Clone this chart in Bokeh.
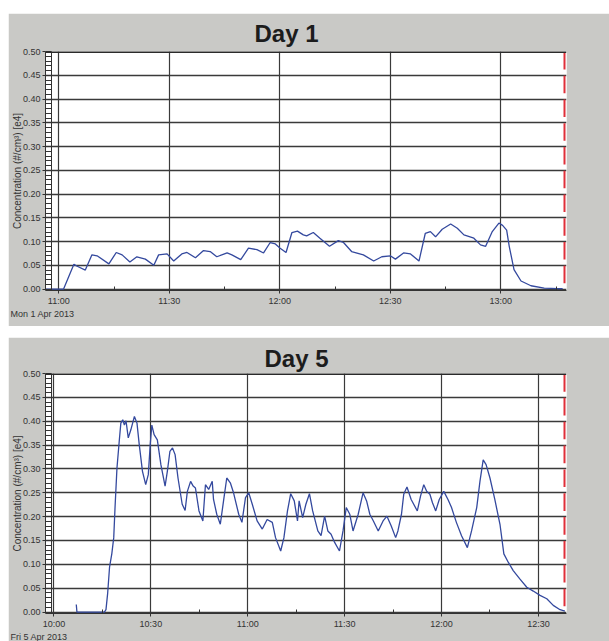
from bokeh.plotting import figure
from bokeh.models import (FixedTicker, NumeralTickFormatter, Span, Title, ColumnDataSource, Range1d)
from bokeh.layouts import column
from bokeh.embed import file_html
from bokeh.resources import INLINE

# ---------------- data (minutes after the first labelled hour) ----------------
day1_t = [-3.5, 1.3, 4.1, 5.0, 7.2, 9.0, 10.4, 13.6, 15.6, 17.2, 19.3, 21.2, 23.5, 25.8,
          27.1, 29.4, 31.2, 33.4, 34.8, 37.1, 39.3, 41.1, 42.9, 45.7, 47.0, 49.4, 51.5,
          53.8, 55.6, 57.4, 58.8, 60.1, 61.7, 63.3, 64.8, 66.4, 67.3, 69.1, 70.9, 73.5,
          75.9, 77.3, 79.5, 82.7, 85.5, 87.7, 90.0, 91.4, 93.6, 95.5, 97.8, 99.5, 100.9,
          102.3, 104.1, 106.4, 108.2, 110.0, 112.7, 114.5, 115.9, 117.7, 119.5, 120.5,
          121.6, 122.3, 123.6, 125.5, 128.2, 131.8, 135.5, 136.8]
day1_v = [0.0, 0.0, 0.052, 0.048, 0.040, 0.072, 0.070, 0.053, 0.077, 0.072, 0.057, 0.068,
          0.063, 0.050, 0.072, 0.074, 0.059, 0.074, 0.077, 0.066, 0.081, 0.079, 0.068, 0.076,
          0.072, 0.062, 0.086, 0.083, 0.076, 0.098, 0.095, 0.086, 0.077, 0.119, 0.122, 0.114,
          0.112, 0.119, 0.107, 0.090, 0.102, 0.098, 0.079, 0.072, 0.059, 0.068, 0.070, 0.063,
          0.076, 0.074, 0.059, 0.117, 0.121, 0.110, 0.126, 0.137, 0.128, 0.114, 0.107, 0.093,
          0.090, 0.121, 0.139, 0.134, 0.124, 0.090, 0.041, 0.017, 0.007, 0.002, 0.001, 0.001]

day5_t = [6.9, 7.1, 15.6, 16.1, 16.6, 17.2, 17.9, 18.5, 18.9, 19.5, 20.2, 20.7, 21.3, 21.8,
          22.3, 23.0, 23.8, 24.9, 25.7, 26.4, 27.4, 28.4, 29.2, 29.8, 30.3, 31.0, 32.0, 33.1,
          34.4, 35.1, 35.9, 36.7, 37.5, 38.4, 39.7, 40.6, 41.3, 42.3, 43.1, 43.8, 44.9, 46.1,
          46.9, 47.9, 49.0, 49.4, 50.4, 51.5, 52.5, 53.5, 54.6, 55.6, 57.2, 58.2, 59.3, 60.3,
          61.4, 62.9, 64.5, 66.0, 67.6, 68.6, 70.2, 71.2, 72.3, 73.3, 74.4, 75.4, 75.9, 77.0,
          78.0, 79.1, 80.1, 81.7, 82.7, 83.8, 84.8, 85.8, 86.9, 88.4, 89.5, 90.5, 91.6, 92.6,
          94.2, 95.7, 96.8, 97.8, 98.9, 100.4, 101.9, 103.1, 104.4, 105.8, 106.5, 107.6, 108.3,
          109.3, 110.6, 112.5, 113.5, 114.5, 115.4, 116.4, 117.2, 118.2, 119.3, 120.7, 122.0,
          123.1, 124.6, 126.2, 128.0, 129.3, 130.9, 131.9, 132.9, 133.8, 135.0, 136.5, 138.1,
          139.3, 140.7, 142.2, 144.3, 146.4, 148.4, 150.5, 152.6, 154.6, 156.7, 158.2]
day5_v = [0.016, 0.0, 0.0, 0.005, 0.038, 0.094, 0.122, 0.156, 0.219, 0.302, 0.358, 0.396,
          0.403, 0.392, 0.401, 0.365, 0.382, 0.410, 0.396, 0.351, 0.295, 0.267, 0.288, 0.351,
          0.392, 0.372, 0.361, 0.309, 0.264, 0.295, 0.337, 0.344, 0.330, 0.281, 0.226, 0.213,
          0.253, 0.274, 0.264, 0.260, 0.212, 0.191, 0.267, 0.257, 0.274, 0.236, 0.205, 0.184,
          0.233, 0.281, 0.271, 0.250, 0.205, 0.188, 0.240, 0.250, 0.226, 0.191, 0.174, 0.194,
          0.188, 0.156, 0.128, 0.156, 0.212, 0.248, 0.233, 0.191, 0.233, 0.198, 0.226, 0.248,
          0.212, 0.170, 0.160, 0.201, 0.170, 0.163, 0.146, 0.128, 0.170, 0.219, 0.205, 0.170,
          0.205, 0.250, 0.233, 0.205, 0.191, 0.170, 0.191, 0.201, 0.181, 0.156, 0.170, 0.205,
          0.247, 0.262, 0.236, 0.212, 0.243, 0.267, 0.253, 0.247, 0.229, 0.212, 0.236, 0.253,
          0.236, 0.219, 0.188, 0.160, 0.135, 0.170, 0.219, 0.274, 0.319, 0.309, 0.281, 0.236,
          0.184, 0.122, 0.104, 0.087, 0.069, 0.052, 0.044, 0.035, 0.028, 0.014, 0.005, 0.002]

y_ticks = [0.0, 0.05, 0.10, 0.15, 0.20, 0.25, 0.30, 0.35, 0.40, 0.45, 0.50]
y_minor = [i / 100 for i in range(0, 51)]
y_label = "Concentration (#/cm\u00b3) [e4]"

day1_xticks = [0, 30, 60, 90, 120]
day1_xminor = [15, 45, 75, 105, 135]
day1_xlabels = ["11:00", "11:30", "12:00", "12:30", "13:00"]
day5_xticks = [0, 30, 60, 90, 120, 150]
day5_xminor = [15, 45, 75, 105, 135]
day5_xlabels = ["10:00", "10:30", "11:00", "11:30", "12:00", "12:30"]

GRAY = "#c9c9c6"
DARK = "#333333"
BLUE = "#34499e"
FONT = "Liberation Sans"
FRAME_W = 521
FRAME_H = 240


def make_panel(title, title_offset, title_standoff, t, v, xticks, xminor, xlabels,
               xstart, xend, date_text, height, top):
    bottom = height - top - FRAME_H
    p = figure(width=601, height=height, x_range=Range1d(xstart, xend),
               y_range=Range1d(-0.003, 0.5), output_backend="svg", toolbar_location=None,
               min_border_left=37, min_border_right=43, min_border_top=top,
               min_border_bottom=bottom)
    p.background_fill_color = "white"
    p.border_fill_color = GRAY
    p.outline_line_color = None

    p.title.text = title
    p.title.align = "left"
    p.title.offset = title_offset
    p.title.text_font = FONT
    p.title.text_font_size = "24px"
    p.title.text_font_style = "bold"
    p.title.text_color = "#1c1c1c"
    p.title.standoff = title_standoff

    # axes
    p.xaxis.ticker = FixedTicker(ticks=xticks, minor_ticks=xminor)
    p.xaxis.major_label_overrides = {k: lab for k, lab in zip(xticks, xlabels)}
    p.yaxis.ticker = FixedTicker(ticks=y_ticks, minor_ticks=y_minor)
    p.yaxis.formatter = NumeralTickFormatter(format="0.00")
    for ax in (p.xaxis[0], p.yaxis[0]):
        ax.axis_line_color = DARK
        ax.major_tick_line_color = DARK
        ax.minor_tick_line_color = DARK
        ax.major_label_text_font = FONT
        ax.major_label_text_font_size = "9px"
        ax.major_label_text_color = DARK
    p.xaxis.major_tick_in = 0
    p.xaxis.major_tick_out = 3
    p.xaxis.minor_tick_in = 4
    p.xaxis.minor_tick_out = 0
    p.xaxis.major_label_standoff = 2
    p.yaxis.major_tick_in = 0
    p.yaxis.major_tick_out = 3
    p.yaxis.minor_tick_in = 6
    p.yaxis.minor_tick_out = 0
    p.yaxis.major_label_standoff = 2

    # rotated axis title and the date, as side titles outside the frame
    p.add_layout(Title(text=y_label, align="center", text_font=FONT, text_font_size="10px",
                       text_font_style="normal", text_color=DARK, standoff=-6), "left")
    p.add_layout(Title(text=date_text, align="left", offset=-35, text_font=FONT,
                       text_font_size="9px", text_font_style="normal", text_color=DARK,
                       standoff=-4), "below")

    # grids
    p.xgrid.grid_line_color = "#3a3a3a"
    p.xgrid.grid_line_width = 1.2
    p.ygrid.grid_line_color = "#3a3a3a"
    p.ygrid.grid_line_width = 1.3

    px_per_min = FRAME_W / (xend - xstart)
    # ladder rail beside the y-axis and thick top border
    p.add_layout(Span(location=xstart + 6.0 / px_per_min, dimension="height",
                      line_color=DARK, line_width=1))
    p.add_layout(Span(location=0.5, dimension="width", line_color="#2a2a2a", line_width=3))

    # red dashed marker on the right edge
    xr = xend - 2.0 / px_per_min
    lows = y_ticks[:-1]
    red = ColumnDataSource(dict(x=[xr] * len(lows), y0=[a + 0.012 for a in lows],
                                y1=[a + 0.049 for a in lows]))
    p.segment(x0="x", y0="y0", x1="x", y1="y1", source=red, line_color="#e0303a", line_width=2)

    p.line(t, v, line_color=BLUE, line_width=1.3)
    return p


p1 = make_panel("Day 1", 209, 9, day1_t, day1_v, day1_xticks, day1_xminor, day1_xlabels,
                -3.61, 137.85, "Mon 1 Apr 2013", 313, 37)
p1.margin = (13, 0, 0, 8)
p2 = make_panel("Day 5", 219, 4, day5_t, day5_v, day5_xticks, day5_xminor, day5_xlabels,
                -2.63, 158.7, "Fri 5 Apr 2013", 304, 36)
p2.margin = (11, 0, 0, 8)

layout = column(p1, p2, spacing=0)
layout.margin = 0
open("out.html", "w").write(file_html(layout, INLINE))
